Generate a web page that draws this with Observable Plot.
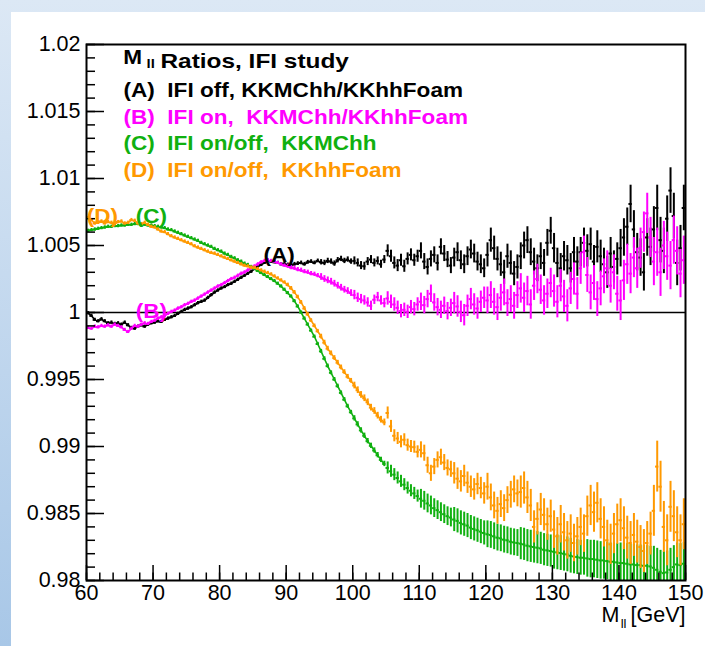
<!DOCTYPE html>
<html><head><meta charset="utf-8">
<script src="https://cdn.jsdelivr.net/npm/d3@7"></script>
<script src="https://cdn.jsdelivr.net/npm/@observablehq/plot@0.6"></script>
<style>
html,body{margin:0;padding:0;}
body{width:705px;height:646px;overflow:hidden;position:relative;background:linear-gradient(to bottom,#dce8f5,#a8c7e7);font-family:"Liberation Sans",Arial,sans-serif;}
#panel{position:absolute;left:11px;top:12px;right:0;bottom:0;background:#fff;}
#chart{position:absolute;left:0;top:0;}
</style></head><body><div id="panel"></div><div id="chart"></div>
<script>
// ---- bins: 0.5 GeV wide, 60..150 GeV
const binStart = 60, binWidth = 0.5, nBins = 180;
// error half-widths per 5 GeV region (60-65, 65-70, ..., 145-150)
const regionWidth = 5;

// (A) IFI off, KKMChh/KKhhFoam
const ratioA = [
0.99995,0.99975,0.99945,0.99935,0.99950,0.99935,0.99920,0.99925,0.99915,0.99920,
0.99910,0.99925,0.99905,0.99885,0.99880,0.99895,0.99905,0.99895,0.99910,0.99920,
0.99925,0.99935,0.99930,0.99945,0.99955,0.99965,0.99975,0.99990,1.00005,1.00020,
1.00030,1.00040,1.00055,1.00070,1.00080,1.00090,1.00110,1.00130,1.00150,1.00165,
1.00180,1.00190,1.00205,1.00215,1.00230,1.00245,1.00260,1.00275,1.00290,1.00305,
1.00325,1.00340,1.00355,1.00370,1.00385,1.00380,1.00375,1.00370,1.00360,1.00365,
1.00355,1.00350,1.00360,1.00365,1.00370,1.00360,1.00375,1.00380,1.00370,1.00385,
1.00375,1.00370,1.00385,1.00380,1.00365,1.00390,1.00400,1.00385,1.00395,1.00380,
1.00385,1.00370,1.00350,1.00345,1.00380,1.00395,1.00370,1.00385,1.00360,1.00395,
1.00460,1.00420,1.00370,1.00350,1.00390,1.00345,1.00400,1.00430,1.00390,1.00420,
1.00460,1.00380,1.00340,1.00400,1.00430,1.00370,1.00490,1.00440,1.00395,1.00350,
1.00410,1.00450,1.00390,1.00360,1.00420,1.00470,1.00440,1.00380,1.00360,1.00330,
1.00430,1.00540,1.00480,1.00400,1.00360,1.00300,1.00420,1.00370,1.00290,1.00340,
1.00420,1.00500,1.00540,1.00450,1.00380,1.00330,1.00420,1.00370,1.00520,1.00610,
1.00480,1.00370,1.00330,1.00420,1.00390,1.00330,1.00450,1.00380,1.00450,1.00520,
1.00460,1.00510,1.00380,1.00490,1.00420,1.00360,1.00300,1.00440,1.00340,1.00400,
1.00480,1.00560,1.00640,1.00810,1.00620,1.00450,1.00410,1.00300,1.00560,1.00490,
1.00620,1.00780,1.00540,1.00460,1.00700,1.00910,1.00720,1.00370,1.00480,1.00780];
const errA = [0.00012,0.00012,0.00012,0.00012,0.00012,0.00012,0.00014,0.0002,0.0003,0.00045,0.0006,0.0007,0.0009,0.001,0.0011,0.0012,0.0014,0.0017];

// (B) IFI on, KKMChh/KKhhFoam
const ratioB = [
0.99885,0.99880,0.99895,0.99890,0.99900,0.99895,0.99905,0.99895,0.99910,0.99900,
0.99890,0.99870,0.99855,0.99880,0.99900,0.99895,0.99910,0.99920,0.99915,0.99930,
0.99940,0.99955,0.99965,0.99975,0.99990,1.00005,1.00015,1.00030,1.00040,1.00055,
1.00065,1.00080,1.00090,1.00105,1.00120,1.00135,1.00150,1.00165,1.00180,1.00195,
1.00205,1.00220,1.00235,1.00250,1.00260,1.00275,1.00290,1.00300,1.00315,1.00330,
1.00345,1.00360,1.00375,1.00385,1.00390,1.00385,1.00380,1.00370,1.00360,1.00350,
1.00345,1.00335,1.00330,1.00320,1.00315,1.00305,1.00300,1.00290,1.00285,1.00275,
1.00265,1.00250,1.00240,1.00230,1.00215,1.00200,1.00185,1.00170,1.00160,1.00145,
1.00130,1.00110,1.00100,1.00090,1.00075,1.00050,1.00095,1.00115,1.00090,1.00070,
1.00105,1.00080,1.00060,1.00035,1.00010,1.00020,1.00005,1.00040,1.00025,1.00060,
1.00080,1.00055,1.00100,1.00140,1.00075,1.00040,1.00020,1.00050,1.00010,1.00035,
1.00070,1.00045,1.00005,0.99980,1.00050,1.00100,1.00060,1.00030,1.00080,1.00110,
1.00090,1.00130,1.00080,1.00040,1.00110,1.00150,1.00070,1.00100,1.00050,1.00130,
1.00180,1.00110,1.00160,1.00060,1.00200,1.00250,1.00170,1.00090,1.00140,1.00220,
1.00160,1.00080,1.00200,1.00120,1.00050,1.00180,1.00250,1.00140,1.00330,1.00450,
1.00280,1.00150,1.00220,1.00100,1.00180,1.00270,1.00330,1.00200,1.00300,1.00140,
1.00090,1.00240,1.00360,1.00290,1.00410,1.00330,1.00480,1.00600,1.00740,1.00560,
1.00380,1.00450,1.00300,1.00500,1.00420,1.00350,1.00540,1.00460,1.00290,1.00390];
const errB = [0.00012,0.00012,0.00012,0.00012,0.00012,0.00012,0.00016,0.00025,0.00035,0.0005,0.00065,0.0008,0.001,0.0011,0.0012,0.0013,0.0015,0.0018];

// (C) IFI on/off, KKMChh
const ratioC = [
1.00610,1.00615,1.00620,1.00625,1.00630,1.00635,1.00640,1.00640,1.00645,1.00645,
1.00650,1.00650,1.00655,1.00655,1.00660,1.00660,1.00655,1.00655,1.00650,1.00650,
1.00645,1.00640,1.00635,1.00630,1.00620,1.00615,1.00605,1.00595,1.00585,1.00575,
1.00565,1.00555,1.00545,1.00535,1.00520,1.00510,1.00500,1.00490,1.00475,1.00465,
1.00455,1.00440,1.00430,1.00415,1.00405,1.00390,1.00380,1.00365,1.00355,1.00340,
1.00325,1.00310,1.00295,1.00280,1.00265,1.00250,1.00235,1.00215,1.00195,1.00170,
1.00145,1.00120,1.00085,1.00045,1.00000,0.99955,0.99910,0.99865,0.99820,0.99765,
0.99710,0.99655,0.99600,0.99550,0.99500,0.99450,0.99400,0.99350,0.99300,0.99255,
0.99210,0.99165,0.99120,0.99080,0.99040,0.99005,0.98970,0.98935,0.98900,0.98870,
0.98840,0.98815,0.98790,0.98765,0.98740,0.98715,0.98690,0.98670,0.98650,0.98630,
0.98610,0.98595,0.98575,0.98560,0.98540,0.98525,0.98510,0.98495,0.98480,0.98470,
0.98455,0.98445,0.98430,0.98420,0.98410,0.98395,0.98385,0.98375,0.98365,0.98355,
0.98345,0.98340,0.98330,0.98320,0.98315,0.98305,0.98300,0.98290,0.98285,0.98280,
0.98275,0.98270,0.98260,0.98255,0.98250,0.98245,0.98240,0.98230,0.98225,0.98220,
0.98215,0.98210,0.98205,0.98200,0.98195,0.98185,0.98180,0.98175,0.98170,0.98170,
0.98165,0.98160,0.98160,0.98155,0.98150,0.98150,0.98145,0.98140,0.98140,0.98135,
0.98130,0.98130,0.98125,0.98120,0.98120,0.98115,0.98115,0.98110,0.98110,0.98105,
0.98095,0.98080,0.98065,0.98055,0.98060,0.98080,0.98100,0.98120,0.98115,0.98125];
const errC = [0.00012,0.00012,0.00012,0.00012,0.00012,0.00012,0.00012,0.00015,0.0002,0.00045,0.0007,0.0009,0.001,0.0012,0.0013,0.0014,0.0015,0.0016];

// (D) IFI on/off, KKhhFoam
const ratioD = [
1.00705,1.00690,1.00665,1.00670,1.00680,1.00665,1.00675,1.00670,1.00660,1.00675,
1.00680,1.00665,1.00670,1.00690,1.00685,1.00665,1.00660,1.00670,1.00655,1.00640,
1.00635,1.00620,1.00605,1.00600,1.00585,1.00570,1.00560,1.00550,1.00540,1.00530,
1.00520,1.00510,1.00495,1.00485,1.00475,1.00465,1.00455,1.00445,1.00440,1.00430,
1.00420,1.00410,1.00400,1.00390,1.00380,1.00370,1.00360,1.00350,1.00345,1.00335,
1.00335,1.00325,1.00315,1.00305,1.00295,1.00285,1.00270,1.00255,1.00240,1.00225,
1.00205,1.00180,1.00150,1.00115,1.00075,1.00030,0.99985,0.99940,0.99900,0.99860,
0.99820,0.99775,0.99730,0.99695,0.99660,0.99625,0.99590,0.99555,0.99520,0.99490,
0.99455,0.99420,0.99385,0.99360,0.99330,0.99290,0.99265,0.99230,0.99200,0.99180,
0.99250,0.99150,0.99080,0.99060,0.99035,0.99050,0.99010,0.99000,0.98995,0.98960,
0.98975,0.98950,0.98860,0.98800,0.98850,0.98900,0.98920,0.98880,0.98840,0.98830,
0.98800,0.98760,0.98740,0.98780,0.98730,0.98700,0.98680,0.98720,0.98690,0.98650,
0.98700,0.98620,0.98560,0.98520,0.98570,0.98540,0.98600,0.98640,0.98680,0.98650,
0.98660,0.98690,0.98620,0.98560,0.98400,0.98460,0.98530,0.98490,0.98420,0.98480,
0.98380,0.98330,0.98420,0.98360,0.98300,0.98350,0.98280,0.98330,0.98400,0.98350,
0.98480,0.98560,0.98510,0.98580,0.98460,0.98400,0.98300,0.98270,0.98350,0.98420,
0.98450,0.98390,0.98320,0.98280,0.98340,0.98290,0.98250,0.98220,0.98280,0.98350,
0.98520,0.98850,0.98700,0.98400,0.98300,0.98550,0.98480,0.98360,0.98300,0.98420];
const errD = [0.00012,0.00012,0.00012,0.00012,0.00012,0.00012,0.00014,0.00018,0.00025,0.00045,0.0006,0.0008,0.001,0.0012,0.0014,0.0015,0.0016,0.0019];

// ---- axes / ticks
const yTickValues = [0.98,0.985,0.99,0.995,1,1.005,1.01,1.015,1.02];
const yTickLabels = ["0.98","0.985","0.99","0.995","1","1.005","1.01","1.015","1.02"];
const xTickValues = [60,70,80,90,100,110,120,130,140,150];
const xTickLabels = ["60","70","80","90","100","110","120","130","140","150"];
const yMinorStep = 0.001, xMinorStep = 2;

// ---- text
const colA = "#000000", colB = "#ff00ff", colC = "#10b010", colD = "#ff9900";
const titleParts = ["M", "ll", "Ratios, IFI study"];
const legendA = "(A)\u00a0\u00a0IFI off, KKMChh/KKhhFoam";
const legendB = "(B)\u00a0\u00a0IFI on,\u00a0\u00a0KKMChh/KKhhFoam";
const legendC = "(C)\u00a0\u00a0IFI on/off,\u00a0\u00a0KKMChh";
const legendD = "(D)\u00a0\u00a0IFI on/off,\u00a0\u00a0KKhhFoam";
const xTitleParts = ["M", "ll", "[GeV]"];
const curveTags = [
  {tag:"(D)", m:60.05, v:1.00716, color:colD},
  {tag:"(C)", m:67.4,  v:1.00716, color:colC},
  {tag:"(B)", m:67.4,  v:1.0001,  color:colB},
  {tag:"(A)", m:86.6,  v:1.00425, color:colA}
];

// ---- layout
const W = 705, H = 646, mL = 86, mR = 20, mT = 44, mB = 66;
const fw = W - mL - mR, fh = H - mT - mB;
const STRETCH = 1.1, TITLE_STRETCH = 1.19;
const LFS = 20.5;
const FONT = "Liberation Sans, Arial, sans-serif";

const centers = d3.range(nBins).map(i => binStart + binWidth * (i + 0.5));
function build(vals, errs) {
  return vals.map((v, i) => ({
    m: centers[i], lo: centers[i] - binWidth / 2, hi: centers[i] + binWidth / 2,
    v, e: errs[Math.floor((centers[i] - binStart) / regionWidth)]
  }));
}
const dA = build(ratioA, errA), dB = build(ratioB, errB), dC = build(ratioC, errC), dD = build(ratioD, errD);

function seriesMarks(d, color) {
  return [
    Plot.ruleX(d, {x: "m", y1: r => r.v - r.e, y2: r => r.v + r.e, stroke: color, strokeWidth: 2, clip: true}),
    Plot.ruleY(d, {y: "v", x1: "lo", x2: "hi", stroke: color, strokeWidth: 2, clip: true}),
    Plot.line(d.filter(r => r.e < 0.0003), {x: "m", y: "v", stroke: color, strokeWidth: 1.6, clip: true})
  ];
}

const yMinor = d3.range(0, 41).map(i => +(0.98 + i * yMinorStep).toFixed(4));
const xMinor = d3.range(60, 151, xMinorStep);
const yLab = new Map(yTickValues.map((v, i) => [v, yTickLabels[i]]));
const xLab = new Map(xTickValues.map((v, i) => [v, xTickLabels[i]]));

function legendText(str, color, dx, baseline, size, weight, cls = "stretch") {
  return Plot.text([str], {
    frameAnchor: "top-left", text: d => d, fill: color, dx, dy: baseline - mT,
    textAnchor: "start", lineAnchor: "bottom", fontSize: size, fontWeight: weight,
    fontFamily: FONT, className: cls
  });
}
function xTitle(str, dx, baseline, size) {
  return Plot.text([str], {
    frameAnchor: "bottom-right", text: d => d, fill: "#000", dx, dy: baseline - (H - mB),
    textAnchor: "end", lineAnchor: "bottom", fontSize: size, fontFamily: FONT
  });
}

const svg = Plot.plot({
  width: W, height: H,
  marginLeft: mL, marginRight: mR, marginTop: mT, marginBottom: mB,
  x: {domain: [60, 150]},
  y: {domain: [0.98, 1.02]},
  style: {background: "transparent", fontFamily: FONT, overflow: "visible"},
  marks: [
    Plot.ruleY([1], {stroke: "#000", strokeWidth: 1.6}),
    ...seriesMarks(dA, colA),
    ...seriesMarks(dB, colB),
    ...seriesMarks(dC, colC),
    ...seriesMarks(dD, colD),
    // inner ticks (ROOT style)
    Plot.tickY(yMinor, {y: d => d, insetRight: fw - 9, stroke: "#000", strokeWidth: 1.5}),
    Plot.tickY(yTickValues, {y: d => d, insetRight: fw - 18, stroke: "#000", strokeWidth: 1.5}),
    Plot.tickX(xMinor, {x: d => d, insetTop: fh - 7.5, stroke: "#000", strokeWidth: 1.5}),
    Plot.tickX(xTickValues, {x: d => d, insetTop: fh - 15, stroke: "#000", strokeWidth: 1.5}),
    Plot.axisY({ticks: yTickValues, tickSize: 0, tickPadding: 6, tickFormat: d => yLab.get(d), fontSize: 21.5, label: null, fill: "#000"}),
    Plot.axisX({ticks: xTickValues, tickSize: 0, tickPadding: 4, tickFormat: d => xLab.get(d), fontSize: 21.5, label: null, fill: "#000"}),
    Plot.frame({stroke: "#000", strokeWidth: 2}),
    // legend block
    legendText(titleParts[0], "#000", 36.7, 63.5, LFS, "bold"),
    legendText(titleParts[1], "#000", 60, 67.5, 13.5, "bold"),
    legendText(titleParts[2], "#000", 74, 67.5, LFS, "bold", "stretch-title"),
    legendText(legendA, colA, 37, 96, LFS, "bold"),
    legendText(legendB, colB, 37, 123, LFS, "bold"),
    legendText(legendC, colC, 37, 149.5, LFS, "bold"),
    legendText(legendD, colD, 37, 176.5, LFS, "bold"),
    // curve tags
    ...curveTags.map(t => Plot.text([t], {x: "m", y: "v", text: "tag", fill: t.color, textAnchor: "start",
      fontSize: LFS, fontWeight: "bold", fontFamily: FONT, className: "stretch"})),
    // x-axis title
    xTitle(xTitleParts[2], 0, 621, 21.5),
    xTitle(xTitleParts[1], -59, 627, 13),
    xTitle(xTitleParts[0], -66, 621, 21.5)
  ]
});
document.getElementById("chart").append(svg);
function stretchTexts(selector, factor) {
  svg.querySelectorAll(selector).forEach(t => {
    if (t.tagName.toLowerCase() !== "text") return;
    const L = t.getComputedTextLength();
    if (L > 0) {
      t.setAttribute("textLength", (L * factor).toFixed(1));
      t.setAttribute("lengthAdjust", "spacingAndGlyphs");
    }
  });
}
stretchTexts('.stretch text, text.stretch', STRETCH);
stretchTexts('.stretch-title text, text.stretch-title', TITLE_STRETCH);
</script></body></html>
